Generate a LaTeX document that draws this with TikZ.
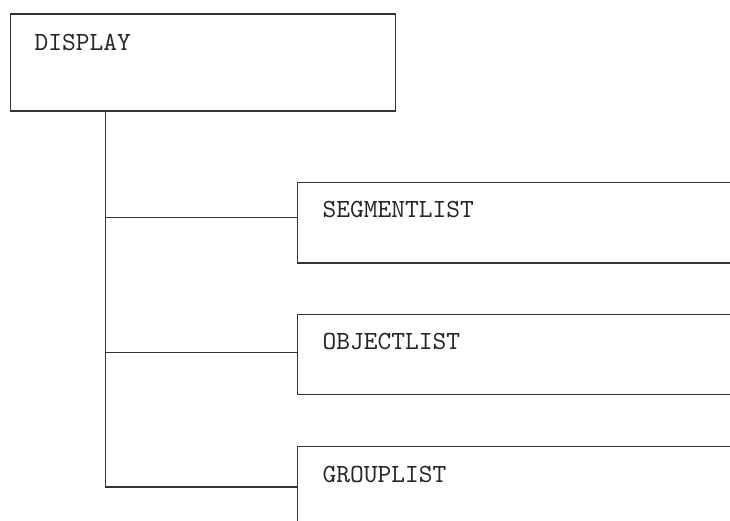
\documentclass[tikz,border=0pt]{standalone}
\begin{document}
\begin{tikzpicture}[x=1pt,y=-1pt,
  ln/.style={line width=1.4pt,draw=black!80},
  boxnode/.style={ln,rectangle,inner sep=0pt,anchor=north west},
  lbl/.style={anchor=base west,inner sep=0pt,scale=2.62,text=black!85,font=\fontsize{10}{12}\selectfont\ttfamily}]
\useasboundingbox (0,0) rectangle (730,521);
\clip (0,0) rectangle (730,521);
\node[boxnode,minimum width=385pt,minimum height=97pt] (disp) at (9.5,13.5) {};
\node[lbl] (tdisp) at (34,51) {DISPLAY};
\node[boxnode,minimum width=460pt,minimum height=80.5pt] (seg) at (297,181.8) {};
\node[lbl] (tseg) at (322,218) {SEGMENTLIST};
\node[boxnode,minimum width=460pt,minimum height=80pt] (obj) at (297,313.8) {};
\node[lbl] (tobj) at (322,349.5) {OBJECTLIST};
\node[boxnode,minimum width=460pt,minimum height=100pt] (grp) at (297,445.8) {};
\node[lbl] (tgrp) at (322,482) {GROUPLIST};
\coordinate (j1) at (105.3,217.8);
\coordinate (j2) at (105.3,352.6);
\coordinate (j3) at (105.3,486.8);
\draw[ln] (disp.south -| j1) -- (j3);
\draw[ln] (j1) -- (j1 -| seg.west);
\draw[ln] (j2) -- (j2 -| obj.west);
\draw[ln] (j3) -- (j3 -| grp.west);
\end{tikzpicture}
\end{document}
